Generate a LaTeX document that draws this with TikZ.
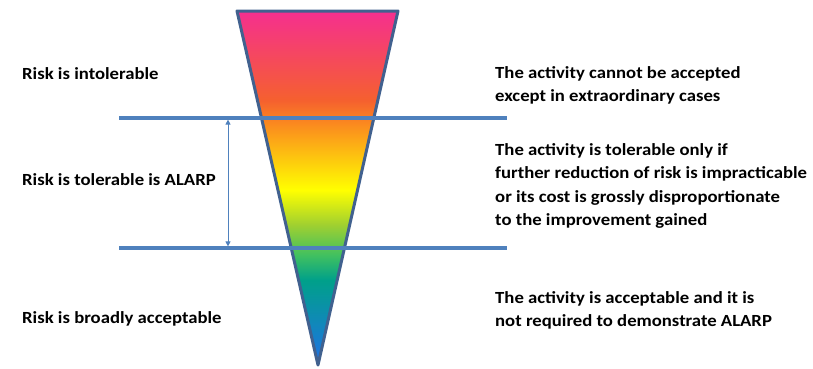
\documentclass[tikz,border=0pt]{standalone}
\usepackage{fontspec}
\setmainfont{Carlito}
\newfontfamily\wideface[FakeStretch=1.1]{Carlito}
\usetikzlibrary{arrows.meta}
\definecolor{pinkc}{HTML}{F52F8F}
\definecolor{redor}{HTML}{F5602F}
\definecolor{orng}{HTML}{FB8C1E}
\definecolor{yel}{HTML}{FFFF00}
\definecolor{ygreen}{HTML}{A0D030}
\definecolor{grn}{HTML}{40C060}
\definecolor{teal2}{HTML}{00A08A}
\definecolor{blu}{HTML}{2070E8}
\definecolor{edge}{HTML}{41618F}
\definecolor{lineblue}{HTML}{4F81BD}
\pgfdeclareverticalshading{risk}{100bp}{color(0bp)=(blu); color(25bp)=(blu); color(37bp)=(teal2); color(40.5bp)=(grn); color(44.8bp)=(ygreen); color(49.7bp)=(yel); color(58.9bp)=(orng); color(62.4bp)=(redor); color(75bp)=(pinkc); color(100bp)=(pinkc)}
\tikzset{
  lbl/.style={anchor=west, align=left, inner sep=0pt, font=\wideface\bfseries\fontsize{17}{23.5}\selectfont},
  level/.style={draw=lineblue, line width=3.2pt},
  span/.style={draw=lineblue, line width=1pt, {Triangle[length=5pt,width=5pt]}-{Triangle[length=5pt,width=5pt]}}
}
\begin{document}
\begin{tikzpicture}[x=1pt,y=-1pt]
\useasboundingbox (0,0) rectangle (813,368);
% funnel
\coordinate (tl) at (237,11);
\coordinate (tr) at (398,11);
\coordinate (ap) at (318,365);
\shade[shading=risk] (tl) -- (tr) -- (ap) -- cycle;
\draw[edge, line width=3pt, line join=round] (tl) -- (tr) -- (ap) -- cycle;
% level lines
\coordinate (u1) at (119,118);
\coordinate (u2) at (507,118);
\coordinate (d1) at (119,248);
\coordinate (d2) at (507,248);
\draw[level] (u1) -- (u2);
\draw[level] (d1) -- (d2);
\coordinate (au) at (228,119.6);
\coordinate (ad) at (228,246.4);
\draw[span] (au) -- (ad);
% left labels
\node[lbl] (l1) at (22,74) {Risk is intolerable};
\node[lbl] (l2) at (22,180) {Risk is tolerable is ALARP};
\node[lbl] (l3) at (22,319) {Risk is broadly acceptable};
% right labels
\node[lbl] (r1) at (495,85.5) {The activity cannot be accepted\\except in extraordinary cases};
\node[lbl] (r2) at (495,186) {The activity is tolerable only if\\further reduction of risk is impracticable\\or its cost is grossly disproportionate\\to the improvement gained};
\node[lbl] (r3) at (495,310.5) {The activity is acceptable and it is\\not required to demonstrate ALARP};
\end{tikzpicture}
\end{document}
